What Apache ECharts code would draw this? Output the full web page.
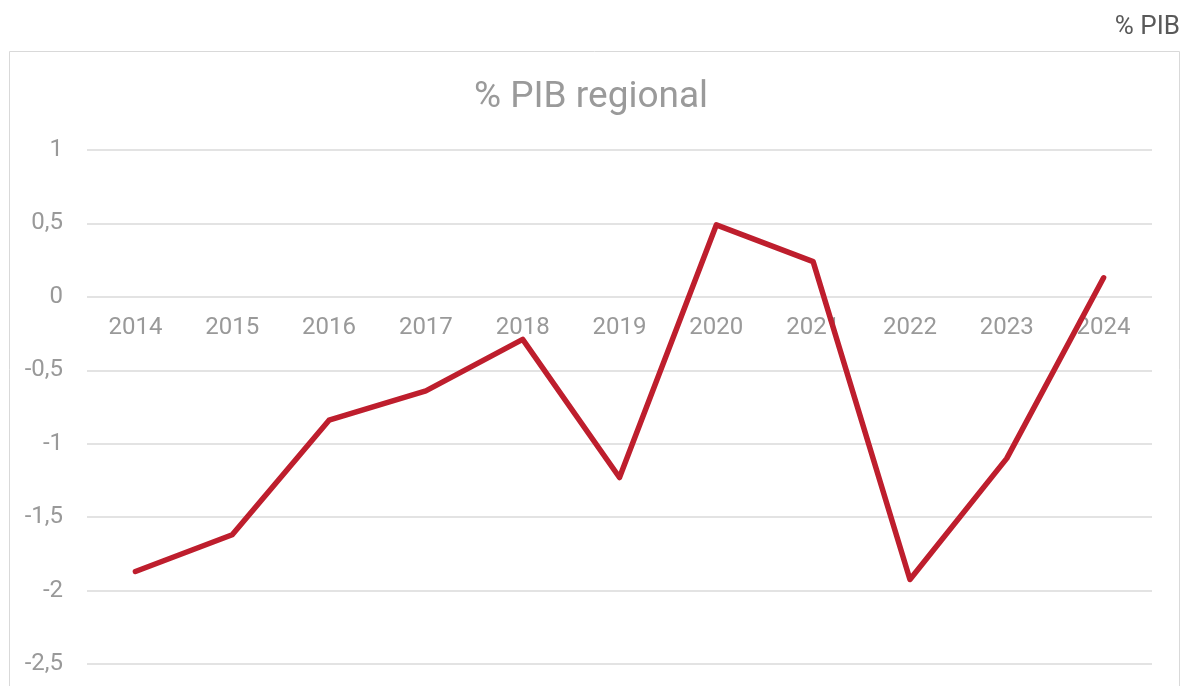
<!DOCTYPE html>
<html><head><meta charset="utf-8">
<script src="https://cdn.jsdelivr.net/npm/echarts@6/dist/echarts.min.js"></script>
<style>html,body{margin:0;padding:0;background:#fff;overflow:hidden}#c{width:1182px;height:686px}</style>
</head><body><div id="c"></div>
<script>
const years = ['2014','2015','2016','2017','2018','2019','2020','2021','2022','2023','2024'];
const pibRegional = [-1.87, -1.62, -0.84, -0.64, -0.29, -1.23, 0.49, 0.24, -1.925, -1.10, 0.13];
const chartTitle = '% PIB regional';
const unitLabel = '% PIB';

const chart = echarts.init(document.getElementById('c'));
chart.setOption({
  animation: false,
  textStyle: { fontFamily: 'Roboto' },
  title: {
    text: chartTitle, left: 'center', top: 74,
    textStyle: { fontFamily: 'Roboto', fontSize: 37, fontWeight: 'normal', color: '#9a9a9a' }
  },
  graphic: [
    { type: 'rect', z: -1, shape: { x: 9.5, y: 51.5, width: 1170, height: 700 },
      style: { fill: null, stroke: '#d9d9d9', lineWidth: 1 } },
    { type: 'text', right: 2, top: 14,
      style: { text: unitLabel, font: '26px Roboto', fill: '#595959' } }
  ],
  grid: { left: 87, right: 30, top: 150, bottom: 22, containLabel: false, outerBoundsMode: 'none' },
  xAxis: {
    type: 'category', data: years, boundaryGap: true, position: 'bottom', offset: -368,
    axisLine: { show: false, onZero: false },
    axisTick: { show: false },
    axisLabel: { fontSize: 24, color: '#999999', margin: 20, fontFamily: 'Roboto' }
  },
  yAxis: {
    type: 'value', min: -2.5, max: 1, interval: 0.5,
    axisLine: { show: false }, axisTick: { show: false },
    axisLabel: { fontSize: 24, color: '#999999', margin: 24, fontFamily: 'Roboto',
      formatter: v => String(v).replace('.', ',') },
    splitLine: { lineStyle: { color: '#e3e3e3', width: 2 } }
  },
  series: [{
    type: 'line', data: pibRegional, symbol: 'none',
    lineStyle: { color: '#BE1E2D', width: 5.5, cap: 'round', join: 'round' }
  }]
});
</script></body></html>
